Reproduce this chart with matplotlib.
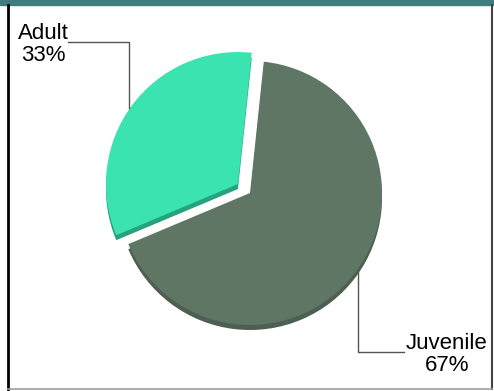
import matplotlib
matplotlib.use("Agg")
import matplotlib.pyplot as plt
from matplotlib.patches import Rectangle

categories = ["Juvenile", "Adult"]
values = [67, 33]
colors = ["#607664", "#3ae3af"]
side_colors = ["#4c5f50", "#27a27c"]

W, H = 494, 391
fig = plt.figure(figsize=(W / 100, H / 100), dpi=100)
ax = fig.add_axes([0, 0, 1, 1])

def Y(y):
    return H - y

cx, cy, r = 250, 193, 132
depth = 5
expl = [0, 15]

# side (depth) layer
w1, _ = ax.pie(values, radius=r, center=(cx, Y(cy + depth)), startangle=84,
               counterclock=False, explode=expl, colors=side_colors,
               wedgeprops=dict(linewidth=0), frame=True)
for w in w1:
    w.set_zorder(3)
# top layer
w2, _ = ax.pie(values, radius=r, center=(cx, Y(cy)), startangle=84,
               counterclock=False, explode=expl, colors=colors,
               wedgeprops=dict(linewidth=0), frame=True)
for w in w2:
    w.set_zorder(4)
ax.set_xlim(0, W)
ax.set_ylim(0, H)
ax.set_aspect("equal")
ax.axis("off")

# title bar
ax.add_patch(Rectangle((0, Y(5)), W, 5, color="#3f7e7d", zorder=1))

# frame
ax.plot([7.5, 7.5], [Y(5), Y(389)], color="black", lw=2, zorder=2)
ax.plot([491.5, 491.5], [Y(5), Y(389)], color="#444444", lw=1.5, zorder=2)
ax.plot([7.5, 491.5], [Y(389), Y(389)], color="#a0a0a0", lw=1.2, zorder=2)

# leader lines
ax.plot([68, 129, 129], [Y(42), Y(42), Y(108)], color="#555555", lw=1, zorder=5)
ax.plot([358, 358, 404], [Y(272), Y(352), Y(352)], color="#555555", lw=1, zorder=5)

# labels
ax.text(43, Y(61), f"{categories[1]}\n{values[1]}%", ha="center", va="baseline",
        multialignment="center", fontsize=16, family="Liberation Sans",
        linespacing=1.05, zorder=6)
ax.text(447, Y(371), f"{categories[0]}\n{values[0]}%", ha="center", va="baseline",
        multialignment="center", fontsize=16, family="Liberation Sans",
        linespacing=1.05, zorder=6)

fig.savefig("out.png", dpi=100)
